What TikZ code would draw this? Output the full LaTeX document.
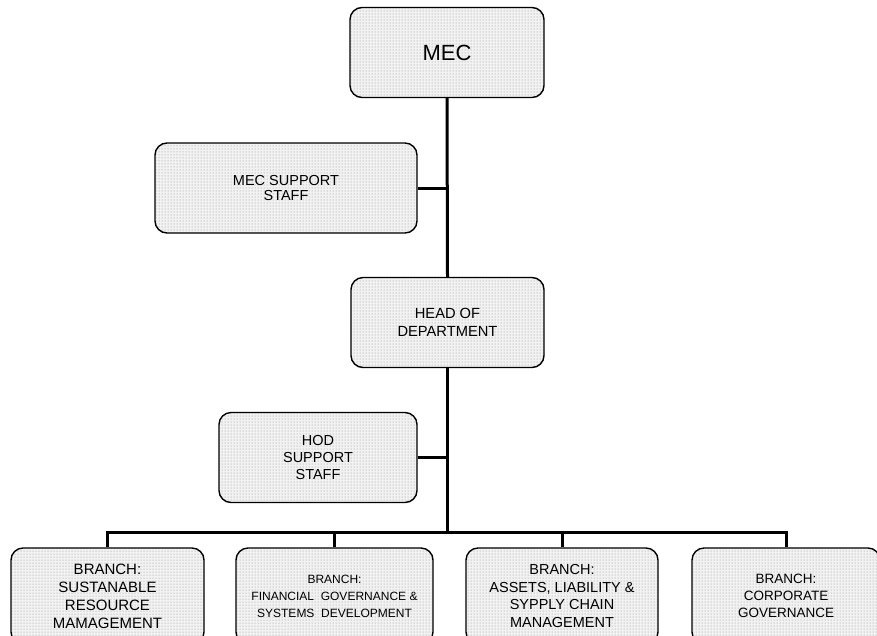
\documentclass[tikz,border=0pt]{standalone}
\usepackage{fontspec}
\setmainfont{Liberation Sans}
\usetikzlibrary{patterns}

\tikzset{
  unitbox/.style={draw, line width=1.4pt, rounded corners=12pt, align=center,
    inner sep=0pt, preaction={fill=black!5}, pattern=dots, pattern color=black!45,
    minimum height=90pt},
  branchbox/.style={unitbox, minimum height=96pt},
  link/.style={line width=3pt}
}

\begin{document}
\begin{tikzpicture}[x=1pt, y=-1pt]
  \useasboundingbox (0,0) rectangle (877,635);
  \clip (0,0) rectangle (877,635);

  % top of the chart
  \node[unitbox, minimum width=194pt, font=\fontsize{22}{26}\selectfont] (mec) at (447,52.5) {MEC};
  \node[unitbox, minimum width=262pt, font=\fontsize{14.5}{15}\selectfont] (mecsup) at (286,188) {MEC SUPPORT\\STAFF};
  \node[unitbox, minimum width=193pt, font=\fontsize{14.7}{18}\selectfont] (hod) at (447.5,322.5) {HEAD OF\\DEPARTMENT};
  \node[unitbox, minimum width=198pt, font=\fontsize{14.5}{17}\selectfont] (hodsup) at (318,457.5) {HOD\\SUPPORT\\STAFF};

  % branches
  \node[branchbox, minimum width=193pt, font=\fontsize{15}{18}\selectfont] (b1) at (107.5,596) {BRANCH:\\SUSTANABLE\\RESOURCE\\MAMAGEMENT};
  \node[branchbox, minimum width=197pt, font=\fontsize{12}{17}\selectfont] (b2) at (334.5,596) {BRANCH:\\FINANCIAL\ \ GOVERNANCE \&\\SYSTEMS\ \ DEVELOPMENT};
  \node[branchbox, minimum width=192pt, font=\fontsize{14.5}{17.5}\selectfont] (b3) at (562,596) {BRANCH:\\ASSETS, LIABILITY \&\\SYPPLY CHAIN\\MANAGEMENT};
  \node[branchbox, minimum width=188pt, font=\fontsize{13.5}{17}\selectfont] (b4) at (786,596) {BRANCH:\\CORPORATE\\GOVERNANCE};

  \coordinate (bus) at (447.5,532);

  \draw[link] (mec.south) -- (hod.north);
  \draw[link] (mecsup.east) -- (mecsup.east -| mec.south);
  \draw[link] (hod.south) -- (bus);
  \draw[link] (hodsup.east) -- (hodsup.east -| hod.south);
  \draw[link] (b1.north) -- (b1.north |- bus) -- (b4.north |- bus) -- (b4.north);
  \draw[link] (b2.north) -- (b2.north |- bus);
  \draw[link] (b3.north) -- (b3.north |- bus);
\end{tikzpicture}
\end{document}
